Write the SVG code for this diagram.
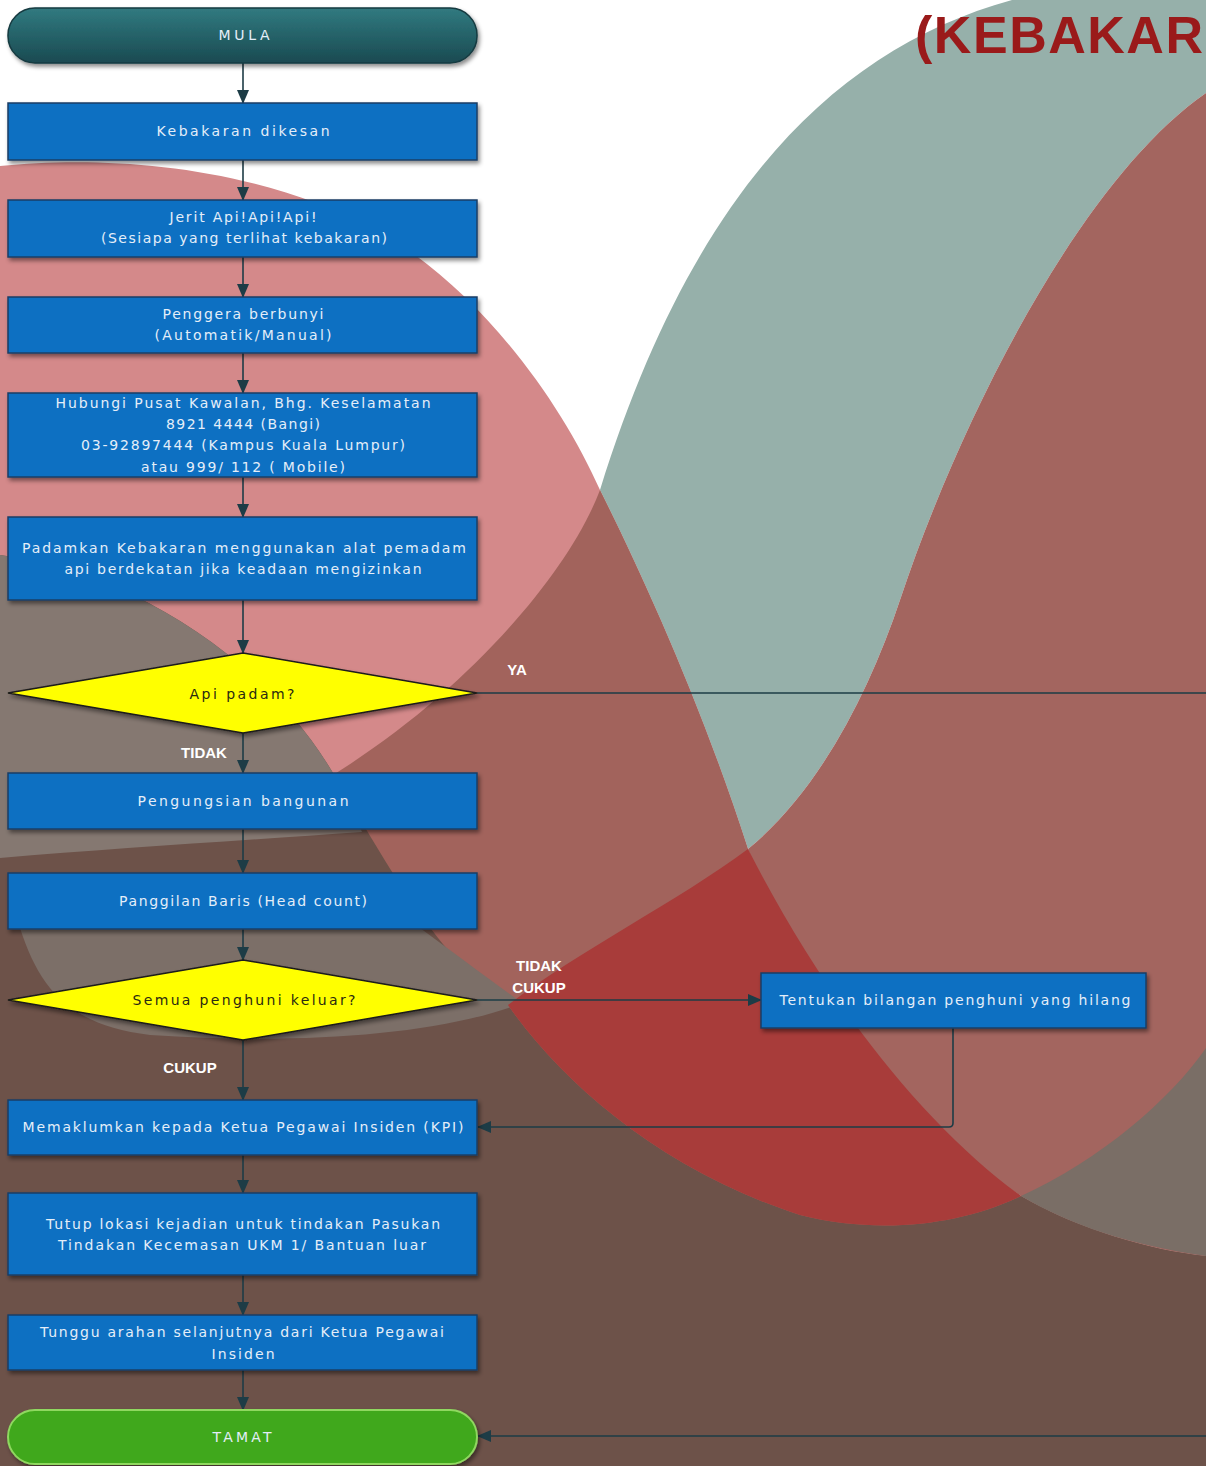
<svg xmlns="http://www.w3.org/2000/svg" width="1206" height="1466" viewBox="0 0 1206 1466">
<defs>
<style>
.box{fill:#0a6fc2;stroke:#1b3f66;stroke-width:1.5}
.dia{fill:#ffff00;stroke:#1a1a1a;stroke-width:1.5}
.t{font-family:"DejaVu Sans",sans-serif;font-size:14px;fill:#e4eef9;text-anchor:middle;dominant-baseline:central}
.td{font-family:"DejaVu Sans",sans-serif;font-size:14px;fill:#2a2a10;text-anchor:middle;dominant-baseline:central}
.lbl{font-family:"Liberation Sans",Arial,sans-serif;font-size:15px;font-weight:bold;fill:#ffffff;text-anchor:middle;dominant-baseline:central}
.con{fill:none;stroke:#1d3c46;stroke-width:1.6}
</style>
<filter id="sh" x="-5%" y="-20%" width="112%" height="160%">
<feDropShadow dx="2" dy="3" stdDeviation="2" flood-color="#000" flood-opacity="0.45"/>
</filter>
<linearGradient id="gMula" x1="0" y1="0" x2="0" y2="1">
<stop offset="0" stop-color="#317a80"/>
<stop offset="1" stop-color="#1a4a51"/>
</linearGradient>
<marker id="ah" viewBox="0 0 14 12" refX="13" refY="6" markerWidth="14" markerHeight="12" markerUnits="userSpaceOnUse" orient="auto">
<path d="M0,0 L14,6 L0,12 Z" fill="#1d3c46"/>
</marker>
</defs>

<g id="background">
<rect x="0" y="0" width="1206" height="1466" fill="#ffffff"/>
<path fill="#d4898a" d="M0,166 C100,156 250,162 380,232 C480,290 560,400 600,490 C640,570 700,700 748,849 C790,960 900,1120 1021,1196 C1080,1230 1150,1250 1206,1256 L1206,1466 L0,1466 Z"/>
<path fill="#96b0aa" d="M1012,0 C830,50 690,200 600,490 C640,570 700,700 748,849 C820,790 870,690 900,600 C960,420 1080,180 1206,93 L1206,0 Z"/>
<path fill="#a3655f" d="M1206,93 C1080,180 960,420 900,600 C870,690 820,790 748,849 C790,960 900,1120 1021,1196 C1080,1230 1150,1250 1206,1256 Z"/>
<path fill="#a2635c" d="M600,490 C640,570 700,700 748,849 C790,960 900,1120 1021,1196 C1080,1230 1150,1250 1206,1256 L1206,1466 L0,1466 L0,900 C150,860 260,820 333,775 C470,690 570,570 600,490 Z"/>
<path fill="#6d5249" d="M0,555 C120,570 260,650 333,773 C390,870 440,960 508,1005 C560,1080 660,1170 800,1215 C880,1235 960,1225 1021,1196 C1080,1230 1150,1250 1206,1256 L1206,1466 L0,1466 Z"/>
<path fill="#857871" d="M0,555 C120,570 260,650 333,773 C345,795 355,815 362,832 C250,840 120,848 0,858 Z"/>
<path fill="#7c6f68" d="M20,928 L420,928 C450,950 490,980 522,1003 C440,1035 300,1045 150,1035 C70,1025 40,990 20,928 Z"/>
<path fill="#a83c3a" d="M748,849 C680,900 580,950 508,1005 C560,1080 660,1170 800,1215 C880,1235 960,1225 1021,1196 C930,1130 830,1010 748,849 Z"/>
<path fill="#7a6e66" d="M1021,1196 C1100,1160 1170,1100 1206,1048 L1206,1256 C1130,1245 1070,1225 1021,1196 Z"/>
<text x="915" y="53" font-family="'Liberation Sans',Arial,sans-serif" font-size="52" font-weight="bold" fill="#9a1a1a" textLength="288" lengthAdjust="spacing">(KEBAKAR</text>
</g>

<g id="connectors">
<line class="con" x1="243" y1="63" x2="243" y2="103" marker-end="url(#ah)"/>
<line class="con" x1="243" y1="160" x2="243" y2="200" marker-end="url(#ah)"/>
<line class="con" x1="243" y1="257" x2="243" y2="297" marker-end="url(#ah)"/>
<line class="con" x1="243" y1="353" x2="243" y2="393" marker-end="url(#ah)"/>
<line class="con" x1="243" y1="477" x2="243" y2="517" marker-end="url(#ah)"/>
<line class="con" x1="243" y1="600" x2="243" y2="653" marker-end="url(#ah)"/>
<line class="con" x1="243" y1="733" x2="243" y2="773" marker-end="url(#ah)"/>
<line class="con" x1="243" y1="829" x2="243" y2="873" marker-end="url(#ah)"/>
<line class="con" x1="243" y1="929" x2="243" y2="960" marker-end="url(#ah)"/>
<line class="con" x1="243" y1="1040" x2="243" y2="1100" marker-end="url(#ah)"/>
<line class="con" x1="243" y1="1155" x2="243" y2="1193" marker-end="url(#ah)"/>
<line class="con" x1="243" y1="1275" x2="243" y2="1315" marker-end="url(#ah)"/>
<line class="con" x1="243" y1="1370" x2="243" y2="1410" marker-end="url(#ah)"/>
<path class="con" d="M477,693 H1214 V1436 H478" marker-end="url(#ah)"/>
<line class="con" x1="477" y1="1000" x2="761" y2="1000" marker-end="url(#ah)"/>
<path class="con" d="M953,1028 V1123 Q953,1127 949,1127 H478" marker-end="url(#ah)"/>
<text class="lbl" x="517" y="669">YA</text>
<text class="lbl" x="204" y="752">TIDAK</text>
<text class="lbl" x="539" y="965">TIDAK</text>
<text class="lbl" x="539" y="987">CUKUP</text>
<text class="lbl" x="190" y="1067">CUKUP</text>
</g>

<g id="n-mula">
<rect x="8" y="8" width="469" height="55" rx="27" ry="27" fill="url(#gMula)" stroke="#163a40" stroke-width="1.5" filter="url(#sh)"/>
<text class="t" x="244" y="35" textLength="51" fill="#dde8ea">MULA</text>
</g>

<g id="n-kebakaran">
<rect class="box" x="8" y="103" width="469" height="57" filter="url(#sh)"/>
<text class="t" x="243" y="131" textLength="173">Kebakaran dikesan</text>
</g>

<g id="n-jerit">
<rect class="box" x="8" y="200" width="469" height="57" filter="url(#sh)"/>
<text class="t" x="243" y="217" textLength="147">Jerit Api!Api!Api!</text>
<text class="t" x="244" y="238" textLength="286">(Sesiapa yang terlihat kebakaran)</text>
</g>

<g id="n-penggera">
<rect class="box" x="8" y="297" width="469" height="56" filter="url(#sh)"/>
<text class="t" x="243" y="314" textLength="161">Penggera berbunyi</text>
<text class="t" x="243" y="335" textLength="177">(Automatik/Manual)</text>
</g>

<g id="n-hubungi">
<rect class="box" x="8" y="393" width="469" height="84" filter="url(#sh)"/>
<text class="t" x="243" y="403" textLength="375">Hubungi Pusat Kawalan, Bhg. Keselamatan</text>
<text class="t" x="243" y="424" textLength="154">8921 4444 (Bangi)</text>
<text class="t" x="243" y="445" textLength="324">03-92897444 (Kampus Kuala Lumpur)</text>
<text class="t" x="243" y="467" textLength="204">atau 999/ 112 ( Mobile)</text>
</g>

<g id="n-padamkan">
<rect class="box" x="8" y="517" width="469" height="83" filter="url(#sh)"/>
<text class="t" x="244" y="548" textLength="444">Padamkan Kebakaran menggunakan alat pemadam</text>
<text class="t" x="243" y="569" textLength="357">api berdekatan jika keadaan mengizinkan</text>
</g>

<g id="n-apipadam">
<polygon class="dia" points="243,653 477,693 243,733 8,693" filter="url(#sh)"/>
<text class="td" x="242" y="694" textLength="105">Api padam?</text>
</g>

<g id="n-pengungsian">
<rect class="box" x="8" y="773" width="469" height="56" filter="url(#sh)"/>
<text class="t" x="243" y="801" textLength="211">Pengungsian bangunan</text>
</g>

<g id="n-panggilan">
<rect class="box" x="8" y="873" width="469" height="56" filter="url(#sh)"/>
<text class="t" x="243" y="901" textLength="248">Panggilan Baris (Head count)</text>
</g>

<g id="n-semua">
<polygon class="dia" points="243,960 477,1000 243,1040 8,1000" filter="url(#sh)"/>
<text class="td" x="244" y="1000" textLength="223">Semua penghuni keluar?</text>
</g>

<g id="n-tentukan">
<rect class="box" x="761" y="973" width="385" height="55" filter="url(#sh)"/>
<text class="t" x="955" y="1000" textLength="351">Tentukan bilangan penghuni yang hilang</text>
</g>

<g id="n-memaklumkan">
<rect class="box" x="8" y="1100" width="469" height="55" filter="url(#sh)"/>
<text class="t" x="243" y="1127" textLength="441">Memaklumkan kepada Ketua Pegawai Insiden (KPI)</text>
</g>

<g id="n-tutup">
<rect class="box" x="8" y="1193" width="469" height="82" filter="url(#sh)"/>
<text class="t" x="243" y="1224" textLength="394">Tutup lokasi kejadian untuk tindakan Pasukan</text>
<text class="t" x="242" y="1245" textLength="368">Tindakan Kecemasan UKM 1/ Bantuan luar</text>
</g>

<g id="n-tunggu">
<rect class="box" x="8" y="1315" width="469" height="55" filter="url(#sh)"/>
<text class="t" x="242" y="1332" textLength="404">Tunggu arahan selanjutnya dari Ketua Pegawai</text>
<text class="t" x="243" y="1354" textLength="63">Insiden</text>
</g>

<g id="n-tamat">
<rect x="8" y="1410" width="469" height="54" rx="27" ry="27" fill="#3fa81a" stroke="#8fd860" stroke-width="2" filter="url(#sh)"/>
<text class="t" x="242" y="1437" textLength="59" fill="#e3f5d5">TAMAT</text>
</g>
</svg>
